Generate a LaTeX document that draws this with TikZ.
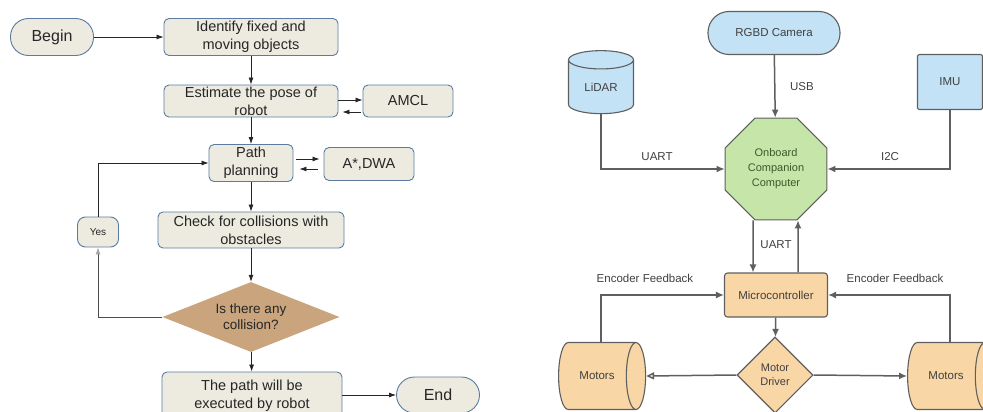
\documentclass[tikz,border=0pt]{standalone}
\usepackage{fontspec}
\setmainfont{Liberation Sans}
\usetikzlibrary{shapes.geometric,arrows.meta}

\definecolor{boxfill}{HTML}{EDEBE0}
\definecolor{boxline}{HTML}{5B7BA3}
\definecolor{tanfill}{HTML}{C9A47C}
\definecolor{skyfill}{HTML}{C3E2F6}
\definecolor{leaffill}{HTML}{C6E5A8}
\definecolor{leafink}{HTML}{3B5A2C}
\definecolor{peachfill}{HTML}{F9D6A6}
\definecolor{wire}{HTML}{5F5F5F}
\definecolor{ink}{HTML}{404040}

\tikzset{
  flowbox/.style={draw=boxline, fill=boxfill, line width=0.9pt, rounded corners=5pt,
    align=center, inner sep=1pt, text=black!85, font=\fontsize{14.5}{18}\selectfont},
  termbox/.style={flowbox, rounded corners=18pt, font=\fontsize{16}{19}\selectfont},
  flowarr/.style={-{Latex[length=7pt,width=5pt]}, line width=0.8pt, draw=black!85},
  hwpart/.style={draw=wire, line width=1.1pt, align=center, inner sep=0pt, text=ink,
    font=\fontsize{11.5}{14}\selectfont},
  hwarr/.style={-{Latex[length=8pt,width=7pt]}, line width=1.5pt, draw=wire, color=wire},
  hwlabel/.style={inner sep=0pt, text=ink, font=\fontsize{11.5}{14}\selectfont}
}

\begin{document}
\begin{tikzpicture}[x=1pt,y=-1pt]
	\useasboundingbox (0,0) rectangle (983,412);
	
	%%%%% flowchart %%%%%
	
	\node[termbox, minimum width=83pt, minimum height=37pt] (begin) at (52,37) {Begin};
	\node[flowbox, minimum width=174pt, minimum height=37pt, inner sep=0pt] (ident) at (251,37) {Identify fixed and\\moving objects};
	\node[flowbox, minimum width=174pt, minimum height=32pt, inner sep=0pt] (est) at (251,101) {Estimate the pose of\\robot};
	\node[flowbox, minimum width=90pt, minimum height=32pt] (amcl) at (408,101) {AMCL};
	\node[flowbox, minimum width=84pt, minimum height=37pt, inner sep=0pt] (path) at (251,163) {Path\\planning};
	\node[flowbox, minimum width=90pt, minimum height=33pt] (astar) at (369,164) {A*,DWA};
	\node[flowbox, minimum width=186pt, minimum height=36pt, inner sep=0pt] (check) at (251,230) {Check for collisions with\\obstacles};
	\node[flowbox, rounded corners=8pt, minimum width=41pt, minimum height=30pt,
		font=\fontsize{10}{12}\selectfont] (yes) at (98,232) {Yes};
	\node[diamond, fill=tanfill, aspect=2.5, minimum width=177pt, minimum height=70pt, inner sep=0pt,
		align=center, text=black!85, font=\fontsize{13.5}{16}\selectfont] (coll) at (251,317) {Is there any\\collision?};
	\node[flowbox, minimum width=180pt, minimum height=48pt] (exec) at (252,396) {The path will be\\executed by robot};
	\node[termbox, minimum width=83pt, minimum height=36pt] (end) at (438,395) {End};
	
	\draw[flowarr] (begin) -- (ident);
	\draw[flowarr] (ident) -- (est);
	\draw[flowarr] ([yshift=1pt]est.east) -- ([yshift=1pt]amcl.west);
	\draw[flowarr] ([shift={(-2pt,-11pt)}]amcl.west) -- ([shift={(4pt,-11pt)}]est.east);
	\draw[flowarr] (est) -- (path);
	\draw[flowarr] ([shift={(3pt,4pt)}]path.east) -- ([shift={(-4pt,5pt)}]astar.west);
	\draw[flowarr] ([shift={(-6pt,-5pt)}]astar.west) -- ([shift={(6pt,-6pt)}]path.east);
	\draw[flowarr] (path) -- (check);
	\draw[flowarr] (check) -- (coll);
	\draw[flowarr] (coll) -- (exec);
	\draw[flowarr] (exec.east |- end.west) -- (end.west);
	\draw[flowarr, draw=black!70, -{Latex[length=7pt,width=5pt,color=black!35]}] (coll.west) -| (yes.south);
	\draw[flowarr] (yes.north) |- (path.west);
	
	%%%%% hardware %%%%%
	
	\node[hwpart, fill=skyfill, rounded corners=21pt, minimum width=132pt, minimum height=43pt] (cam) at (774,33) {RGBD Camera};
	\node[hwpart, fill=skyfill, cylinder, shape border rotate=90, aspect=0.55,
		minimum width=65pt, minimum height=63pt] (lidar) at (601,87) {LiDAR};
	\node[hwpart, fill=skyfill, rounded corners=2pt, minimum width=65pt, minimum height=55pt] (imu) at (950,82) {IMU};
	\node[hwpart, fill=leaffill, regular polygon, regular polygon sides=8, minimum size=110pt,
		text=leafink, font=\fontsize{11}{15}\selectfont] (onboard) at (776,169) {Onboard\\Companion\\Computer};
	\node[hwpart, fill=peachfill, rounded corners=3pt, minimum width=103pt, minimum height=44pt] (micro) at (776,295) {Microcontroller};
	\node[hwpart, fill=peachfill, diamond, minimum size=76pt,
		font=\fontsize{11}{14}\selectfont] (driver) at (775,375) {Motor\\Driver};
	\node[hwpart, fill=peachfill, cylinder, aspect=2.4, minimum width=67pt, minimum height=87pt] (lmot) at (597,376) {Motors};
	\node[hwpart, fill=peachfill, cylinder, aspect=2.4, minimum width=67pt, minimum height=87pt] (rmot) at (946,376) {Motors};
	
	\node[hwlabel] (usb) at (802,87) {USB};
	\node[hwlabel] (uartL) at (657,157) {UART};
	\node[hwlabel] (i2c) at (890,157) {I2C};
	\node[hwlabel] (uartM) at (776,245) {UART};
	\node[hwlabel] (encL) at (645,278) {Encoder Feedback};
	\node[hwlabel] (encR) at (895,278) {Encoder Feedback};
	
	\draw[hwarr] (cam) -- (onboard);
	\draw[hwarr] (lidar.south) |- (onboard.west);
	\draw[hwarr] (imu.south) |- (onboard.east);
	\draw[hwarr] ([xshift=-23pt]onboard.south) -- ([xshift=-23pt]micro.north);
	\draw[hwarr] ([xshift=22pt]micro.north) -- ([xshift=22pt]onboard.south);
	\draw[hwarr] (micro) -- (driver);
	\draw[hwarr] ([xshift=4pt]lmot.north) |- (micro.west);
	\draw[hwarr] ([xshift=4pt]rmot.north) |- (micro.east);
	\draw[hwarr, -{Triangle[open,length=8pt,width=7pt,fill=white]}] (driver.west) -- (lmot.east);
	\draw[hwarr] (driver.east) -- (rmot.west);
	
\end{tikzpicture}
\end{document}
